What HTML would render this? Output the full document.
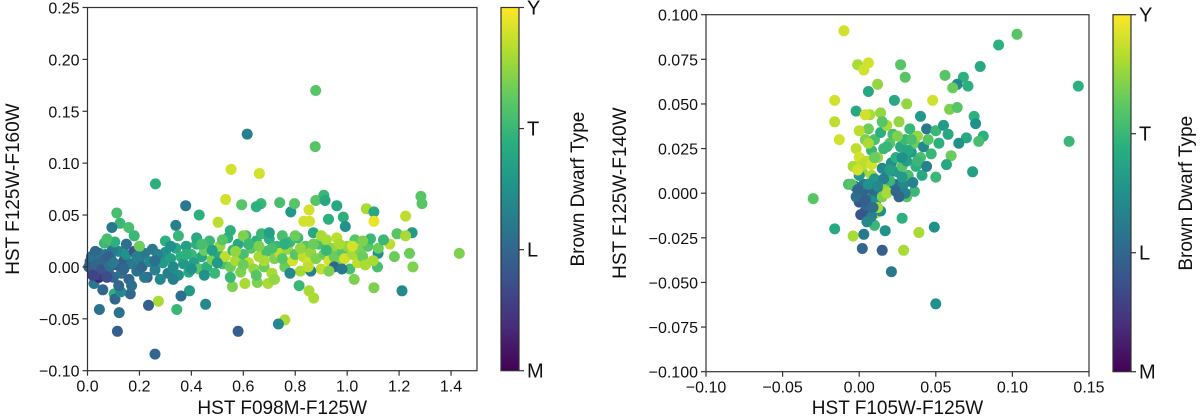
<!DOCTYPE html>
<html><head><meta charset="utf-8"><style>
html,body{margin:0;padding:0;background:#fff;}
svg{display:block;font-family:"Liberation Sans","DejaVu Sans",sans-serif;}
</style></head><body>
<svg id="fig" width="1200" height="420" viewBox="0 0 1200 420" xmlns="http://www.w3.org/2000/svg">
<defs>
<linearGradient id="vir" x1="0" y1="1" x2="0" y2="0">
<stop offset="0" stop-color="#440154"/><stop offset="0.125" stop-color="#472d7b"/><stop offset="0.25" stop-color="#3b528b"/><stop offset="0.375" stop-color="#2c728e"/><stop offset="0.5" stop-color="#21918c"/><stop offset="0.625" stop-color="#28ae80"/><stop offset="0.75" stop-color="#5ec962"/><stop offset="0.875" stop-color="#addc30"/><stop offset="1" stop-color="#fde725"/>
</linearGradient>
</defs>
<g id="left"></g>
<g id="right"></g>
</svg>
<script>
const leftX=[0.879,0.877,0.615,0.553,0.662,0.262,0.532,0.378,0.430,0.113,0.125,0.094,0.159,0.340,0.503,0.594,0.668,0.650,0.740,0.783,0.797,0.853,0.833,0.855,0.879,0.910,0.915,0.960,0.928,0.985,0.993,1.074,1.103,1.103,1.225,1.284,1.288,1.250,1.192,1.225,1.164,1.432,1.240,1.182,1.119,1.253,1.117,1.027,1.103,1.211,0.871,0.853,0.815,0.760,0.735,0.580,0.558,0.606,0.654,0.695,0.455,0.393,0.360,0.344,0.273,0.235,0.260,0.115,0.122,0.046,0.103,0.106,0.165,0.128,0.059,0.025,0.044,
0.01,0.02,0.03,0.04,0.05,0.06,0.07,0.08,0.09,0.1,0.11,0.12,0.13,0.14,0.15,0.16,0.17,0.18,0.19,0.2,0.21,0.22,0.23,0.24,0.25,0.26,0.27,0.28,0.29,0.30,0.31,0.32,0.33,0.34,0.35,0.36,0.37,0.38,0.39,0.40,0.41,0.42,0.43,0.44,0.45,0.46,0.47,0.48,0.49,0.50,0.51,0.52,0.53,0.54,0.55,0.56,0.57,0.58,0.59,0.60,0.61,0.62,0.63,0.64,0.65,0.66,0.67,0.68,0.69,0.70,0.71,0.72,0.73,0.74,0.75,0.76,0.77,0.78,0.79,0.80,0.81,0.82,0.83,0.84,0.85,0.86,0.87,0.88,0.89,0.90,0.91,0.92,0.93,0.94,0.95,0.96,0.97,0.98,0.99,1.00,1.01,1.02,1.03,1.04,1.05,1.06,1.07,1.08,1.09,1.10,1.12,1.14,
0.005,0.015,0.025,0.035,0.045,0.055,0.065,0.075,0.085,0.095,0.105,0.065,0.075,0.15,0.18,0.2,0.27,0.3,0.35,0.42,0.55,0.6,0.7,0.8,0.9,0.12,0.17,0.22,0.33,0.45,0.55,0.65,0.72,0.78,0.86,0.95,0.98,
0.32,0.38,0.44,0.48,0.52,0.57,0.62,0.66,0.71,0.76,0.82,0.87,0.92,0.97,1.02,1.06,0.6,0.68,0.75,0.85,0.93,0.5,0.4,0.26,0.08,0.03,0.02,0.1,0.14,0.19];
const leftY=[0.170,0.116,0.128,0.094,0.090,0.080,0.065,0.059,0.050,0.052,0.042,0.038,0.038,0.040,0.043,0.060,0.061,0.058,0.062,0.053,0.061,0.055,0.044,0.044,0.064,0.069,0.064,0.059,0.046,0.048,0.039,0.056,0.053,0.044,0.049,0.068,0.061,0.033,0.032,0.030,0.022,0.013,0.013,0.010,0.013,0.000,0.000,-0.012,-0.020,-0.023,-0.030,-0.023,-0.018,-0.051,-0.055,-0.062,-0.019,-0.016,-0.015,-0.016,-0.036,-0.023,-0.028,-0.041,-0.033,-0.037,-0.084,-0.062,-0.044,-0.041,-0.026,-0.031,-0.026,-0.024,-0.022,-0.016,-0.010,
0.005,-0.003,0.008,0.0,-0.008,0.004,0.012,-0.004,0.008,-0.01,0.002,0.015,-0.006,0.006,0.012,-0.012,0.003,0.015,-0.004,0.008,0.0,0.013,-0.01,0.005,0.017,-0.003,0.009,-0.012,0.004,0.014,-0.006,0.008,0.0,0.018,-0.008,0.01,0.003,0.02,-0.005,0.012,0.004,0.022,-0.002,0.01,0.016,0.0,0.025,0.007,-0.006,0.014,0.02,0.003,0.01,0.028,0.0,0.016,0.006,0.022,-0.005,0.012,0.03,0.004,0.018,-0.002,0.025,0.01,0.032,0.0,0.015,0.027,-0.006,0.008,0.02,0.013,0.03,0.0,0.017,0.024,0.006,0.012,0.028,-0.004,0.01,0.02,0.004,0.014,0.033,0.008,0.022,-0.002,0.012,0.026,0.006,0.018,0.01,0.028,0.002,0.015,0.008,0.02,-0.002,0.012,0.026,0.004,0.016,0.01,0.002,0.02,0.027,0.006,0.018,0.026,
0.0,0.01,-0.008,0.002,0.013,-0.002,0.007,-0.01,0.001,0.016,0.024,0.023,0.027,0.022,0.03,0.02,0.012,0.025,0.03,0.028,0.035,0.03,0.033,0.03,0.03,-0.018,-0.018,-0.01,-0.012,-0.008,-0.01,-0.008,-0.012,-0.006,-0.004,0.0,-0.002,
0.02,0.012,0.022,0.016,0.026,0.015,0.022,0.02,0.018,0.022,0.018,0.022,0.016,0.022,0.02,0.025,0.002,0.006,0.008,0.0,-0.004,0.004,-0.002,0.006,0.01,0.015,-0.008,0.004,-0.002,0.01];
const leftType=[2.2,2.2,1.3,2.8,2.8,1.9,2.8,1.2,1.9,2.1,2.0,1.2,2.1,1.3,2.7,2.2,2.0,1.9,2.1,1.6,2.2,2.8,2.8,2.8,2.2,2.0,1.8,1.8,1.9,1.9,1.5,2.6,1.8,2.9,2.7,2.2,2.2,1.6,2.2,2.6,2.7,2.4,2.3,2.3,1.5,2.4,2.1,2.4,2.4,1.4,2.6,2.6,2.0,2.6,1.4,0.9,2.4,2.6,2.4,2.6,1.4,1.6,1.1,2.0,2.6,0.9,1.0,0.9,1.1,1.1,1.9,1.0,1.0,1.4,1.0,1.2,0.3,
0.8,0.6,1.0,0.7,0.5,1.1,1.2,0.9,1.3,1.0,0.8,1.4,1.1,0.9,1.5,1.0,1.2,0.8,1.1,1.3,1.0,1.2,1.0,1.4,1.2,1.3,1.1,1.4,1.6,1.5,1.3,1.7,1.4,1.8,1.5,1.9,1.6,1.7,1.8,2.0,1.7,1.9,2.2,1.8,2.3,1.9,2.0,2.4,2.0,1.8,2.5,2.1,2.7,1.9,2.3,2.0,2.6,1.8,2.4,2.1,2.0,2.7,2.2,2.5,1.9,2.6,2.0,2.3,2.1,1.9,2.6,2.4,2.0,2.7,2.1,2.3,2.5,2.0,2.8,2.2,2.0,2.6,2.7,2.2,2.8,2.5,1.8,2.4,2.1,2.7,2.3,2.6,2.8,2.5,2.3,2.7,2.4,2.2,2.8,2.5,2.1,2.6,2.2,2.7,2.4,2.3,2.6,2.2,2.0,2.6,2.3,2.0,
0.9,1.1,0.7,1.0,1.2,0.8,1.0,0.7,1.1,1.2,1.9,2.0,2.1,1.1,2.0,2.3,1.3,1.9,2.0,1.8,1.9,2.4,1.7,2.3,2.6,1.0,1.1,1.2,1.3,1.5,2.0,2.2,2.5,1.4,1.3,1.0,1.2,
1.5,1.9,2.1,1.7,2.2,2.5,2.0,2.4,2.1,1.9,2.5,2.3,2.0,2.6,2.8,2.4,2.3,2.6,2.2,2.7,2.4,1.6,1.5,1.1,0.9,1.0,0.6,1.2,1.0,1.3];

const rightX=[-0.010,0.103,0.091,0.079,0.143,0.137,-0.001,0.006,0.003,0.027,0.030,0.012,0.006,0.056,0.068,0.064,0.071,0.061,-0.016,-0.016,-0.013,-0.002,0.048,0.059,0.064,0.075,0.076,0.081,0.078,0.070,0.065,0.060,0.057,0.074,0.050,-0.030,-0.016,-0.004,0.010,0.017,0.028,0.039,0.049,0.003,0.002,0.015,0.029,0.021,0.050,0.011,0.014,0.036,0.031,0.040,0.044,0.031,0.023,0.014,0.007,0.004,-0.007,
-0.004,-0.002,0.0,0.002,0.004,0.005,0.006,0.008,0.008,0.01,0.012,0.012,0.014,0.015,0.016,0.017,0.018,0.019,0.02,0.021,0.022,0.023,0.024,0.025,0.026,0.027,0.028,0.029,0.03,0.031,0.032,0.033,0.034,0.035,0.036,0.037,0.038,0.04,0.041,0.042,0.044,0.045,0.047,0.05,0.052,0.055,0.058,
0.0,0.002,0.004,0.006,-0.002,0.001,0.003,0.005,0.007,0.009,-0.003,0.008,0.005,0.011,0.013,0.01,0.015,0.018,0.02,0.024,0.016,-0.005,0.0,0.002,-0.001,0.006,0.012,0.008,0.028,0.03,0.026,
0.01,0.018,0.025,0.032,0.038,0.02,0.006,0.0,0.015,0.028,0.034,0.004,0.009,-0.001,0.012];
const rightY=[0.091,0.089,0.083,0.071,0.060,0.029,0.072,0.073,0.069,0.072,0.065,0.061,0.057,0.066,0.065,0.061,0.060,0.059,0.052,0.040,0.030,0.046,0.052,0.047,0.048,0.043,0.039,0.032,0.029,0.031,0.028,0.021,0.016,0.012,0.009,-0.003,-0.020,-0.024,-0.018,-0.021,-0.014,-0.022,-0.019,-0.023,-0.031,-0.032,-0.032,-0.044,-0.062,-0.011,-0.010,0.001,-0.002,0.043,0.036,0.050,0.052,0.045,0.044,0.044,0.005,
0.015,0.025,0.02,0.012,0.03,0.018,0.036,0.024,0.01,0.03,0.02,0.006,0.034,0.014,0.025,0.003,0.038,0.01,0.028,0.017,0.033,0.005,0.02,0.012,0.04,0.026,0.015,0.005,0.03,0.018,0.01,0.036,0.023,0.006,0.028,0.015,0.032,0.02,0.01,0.026,0.015,0.03,0.022,0.035,0.028,0.038,0.033,
-0.005,0.0,-0.01,0.003,-0.002,-0.012,0.005,-0.007,-0.003,0.002,0.004,-0.013,-0.016,-0.004,0.0,0.008,-0.002,0.0,0.007,0.001,0.008,0.005,0.01,0.016,0.013,0.005,-0.008,0.016,0.009,0.0,-0.002,
0.02,0.026,0.032,0.024,0.018,0.013,0.028,0.035,0.04,0.02,0.03,-0.004,-0.008,0.002,0.004];
const rightType=[2.8,2.2,1.9,1.8,1.9,2.0,2.6,2.8,2.8,2.2,2.2,2.5,1.8,2.2,1.9,1.4,1.9,2.3,2.8,2.7,2.8,1.8,2.8,2.4,2.2,1.9,1.5,1.9,2.1,1.8,1.5,2.3,1.8,1.7,2.0,2.2,1.8,2.6,2.0,1.5,1.9,2.6,1.5,1.2,1.0,0.9,2.6,1.2,1.5,2.6,1.5,2.0,2.2,1.6,1.2,2.5,1.8,2.5,2.6,2.8,2.1,
2.6,2.7,2.8,2.5,2.4,2.7,2.3,2.0,2.6,2.1,2.5,1.8,1.9,1.4,2.0,2.5,2.6,1.2,2.2,1.5,2.1,1.1,1.9,1.6,2.5,1.8,2.2,1.4,2.0,1.7,2.1,2.0,1.6,1.3,2.3,1.9,2.5,2.1,1.8,1.4,1.3,2.2,2.0,2.0,1.9,1.6,1.8,
0.8,1.0,0.7,0.9,1.1,0.8,1.2,1.0,1.3,1.0,1.2,1.3,1.4,1.5,1.1,1.6,2.4,2.6,2.0,1.0,1.3,2.2,1.6,2.7,2.8,1.5,2.6,2.8,1.6,1.3,1.0,
2.3,2.0,2.4,1.8,2.0,1.7,2.6,2.7,2.2,1.5,2.1,0.9,1.1,1.0,1.4];

const leftXTicks=["0.0","0.2","0.4","0.6","0.8","1.0","1.2","1.4"];
const leftYTicks=["−0.10","−0.05","0.00","0.05","0.10","0.15","0.20","0.25"];
const rightXTicks=["−0.10","−0.05","0.00","0.05","0.10","0.15"];
const rightYTicks=["−0.100","−0.075","−0.050","−0.025","0.000","0.025","0.050","0.075","0.100"];
const cbarTicks=["M","L","T","Y"];

const NS="http://www.w3.org/2000/svg";
const VIR=[[68,1,84],[71,45,123],[59,82,139],[44,114,142],[33,145,140],[40,174,128],[94,201,98],[173,220,48],[253,231,37]];
function viridis(t){t=Math.max(0,Math.min(1,t));const p=t*(VIR.length-1);const i=Math.min(VIR.length-2,Math.floor(p));const f=p-i;const c=VIR[i].map((v,k)=>Math.round(v+(VIR[i+1][k]-v)*f));return `rgb(${c[0]},${c[1]},${c[2]})`;}
function mk(tag,attrs,parent,text){const e=document.createElementNS(NS,tag);for(const k in attrs)e.setAttribute(k,attrs[k]);if(text!==undefined)e.textContent=text;parent.appendChild(e);return e;}

function panel(g,o){
  const sx=v=>o.x0+(v-o.xmin)/(o.xmax-o.xmin)*(o.x1-o.x0);
  const sy=v=>o.y1-(v-o.ymin)/(o.ymax-o.ymin)*(o.y1-o.y0);
  const pts=mk('g',{},g);
  
  
  for(let i=0;i<o.xs.length;i++){
    const c=mk('circle',{cx:sx(o.xs[i]).toFixed(1),cy:sy(o.ys[i]).toFixed(1),r:5.5,fill:viridis(o.cs[i]/3)},pts);
    
    
  }
  const fr=mk('rect',{x:o.x0,y:o.y0,width:o.x1-o.x0,height:o.y1-o.y0,fill:'none',stroke:'#333','stroke-width':1.2},g);
  
  
  const xa=mk('g',{},g);
  
  
  o.xt.forEach((lab,i)=>{const v=o.xmin+i*o.xstep;const x=sx(v);
    mk('line',{x1:x,y1:o.y1,x2:x,y2:o.y1+5,stroke:'#333','stroke-width':1.2},xa);
    const t=mk('text',{x:x,y:o.y1+21,'text-anchor':'middle','font-size':16,fill:'#111'},xa,lab);
    
    });
  const ya=mk('g',{},g);
  
  
  o.yt.forEach((lab,i)=>{const v=o.ymin+i*o.ystep;const y=sy(v);
    mk('line',{x1:o.x0-5,y1:y,x2:o.x0,y2:y,stroke:'#333','stroke-width':1.2},ya);
    const t=mk('text',{x:o.x0-8,y:y+6,'text-anchor':'end','font-size':16,fill:'#111'},ya,lab);
    
    });
  const xl=mk('text',{x:(o.x0+o.x1)/2,y:414,'text-anchor':'middle','font-size':19,fill:'#111'},g,o.xlabel);
  
  
  const yl=mk('text',{x:0,y:0,'text-anchor':'middle','font-size':19,fill:'#111',transform:`translate(${o.ylx},${(o.y0+o.y1)/2}) rotate(-90)`},g,o.ylabel);
  
  
  const cb=mk('g',{},g);
  
  
  mk('rect',{x:o.cx0,y:o.y0,width:o.cx1-o.cx0,height:o.y1-o.y0,fill:'url(#vir)',stroke:'#333','stroke-width':1.2},cb);
  cbarTicks.forEach((lab,i)=>{const y=o.y1-i/3*(o.y1-o.y0);
    mk('line',{x1:o.cx1,y1:y,x2:o.cx1+5,y2:y,stroke:'#333','stroke-width':1.2},cb);
    const t=mk('text',{x:o.cx1+8,y:y+7,'font-size':20,fill:'#111'},cb,lab);
    
    });
  const cl=mk('text',{x:0,y:0,'text-anchor':'middle','font-size':19,fill:'#111',transform:`translate(${o.clx},${(o.y0+o.y1)/2}) rotate(-90)`},cb,'Brown Dwarf Type');
  
  
}
panel(document.getElementById('left'),{x0:87.5,x1:477,y0:7.5,y1:370.7,xmin:0,xmax:1.5,ymin:-0.10,ymax:0.25,xstep:0.2,ystep:0.05,xs:leftX,ys:leftY,cs:leftType,xt:leftXTicks,yt:leftYTicks,xlabel:'HST F098M-F125W',ylabel:'HST F125W-F160W',ylx:19,cx0:501,cx1:519,clx:584});
panel(document.getElementById('right'),{x0:706,x1:1089,y0:14.7,y1:371.7,xmin:-0.10,xmax:0.15,ymin:-0.10,ymax:0.10,xstep:0.05,ystep:0.025,xs:rightX,ys:rightY,cs:rightType,xt:rightXTicks,yt:rightYTicks,xlabel:'HST F105W-F125W',ylabel:'HST F125W-F140W',ylx:626,cx0:1113,cx1:1131,clx:1192});
</script>
</body></html>
